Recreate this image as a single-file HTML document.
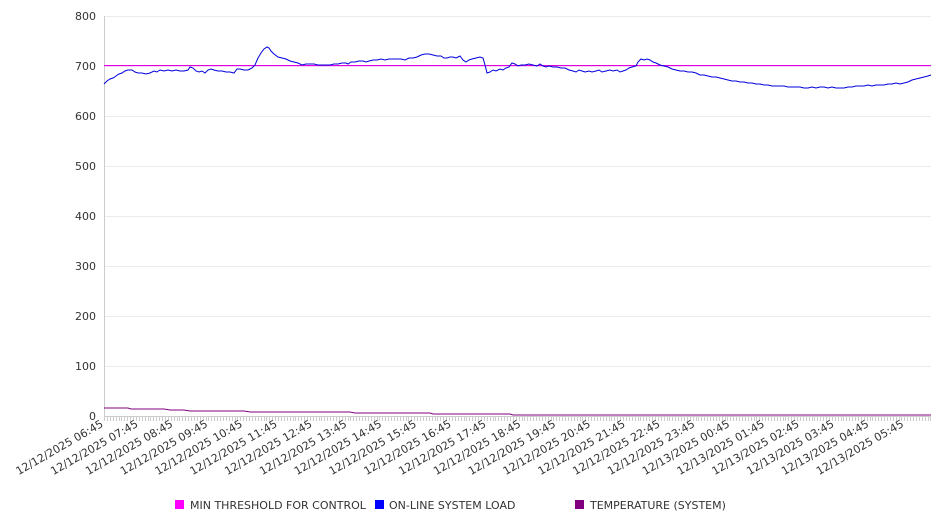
<!DOCTYPE html>
<html><head><meta charset="utf-8"><style>
html,body{margin:0;padding:0;background:#fff;}
svg{display:block;font-family:"DejaVu Sans","Liberation Sans",sans-serif;}
</style></head><body>
<svg width="946" height="526" viewBox="0 0 946 526" xmlns="http://www.w3.org/2000/svg">
<g stroke="#ebebeb" stroke-width="1">
<line x1="104" y1="16.5" x2="931" y2="16.5"/>
<line x1="104" y1="116.5" x2="931" y2="116.5"/><line x1="104" y1="166.5" x2="931" y2="166.5"/>
<line x1="104" y1="216.5" x2="931" y2="216.5"/><line x1="104" y1="266.5" x2="931" y2="266.5"/>
<line x1="104" y1="316.5" x2="931" y2="316.5"/><line x1="104" y1="366.5" x2="931" y2="366.5"/>
</g>
<line x1="104.5" y1="16" x2="104.5" y2="417" stroke="#ccc"/>
<line x1="104" y1="416.5" x2="931" y2="416.5" stroke="#ccc"/>
<g font-size="11" fill="#333" text-anchor="end">
<text x="96" y="20">800</text><text x="96" y="70">700</text><text x="96" y="120">600</text>
<text x="96" y="170">500</text><text x="96" y="220">400</text><text x="96" y="270">300</text>
<text x="96" y="320">200</text><text x="96" y="370">100</text><text x="96" y="420">0</text>
</g>
<path id="ticks" stroke="#ccc" stroke-width="1" fill="none" d=""/>
<rect x="104" y="65" width="827" height="1.2" fill="#e000e0"/>
<polyline fill="none" stroke="#0000dd" stroke-width="1" points="104,84 107,81 110,79 113,78 116,76 119,74 122,73 125,71 128,70 132,70 135,72 138,73 142,73 146,74 150,73 154,71 157,72 160,70 164,71 168,70 172,71 176,70 180,71 184,71 188,70 190,67 193,68 196,71 199,72 202,71 205,73 208,70 211,69 214,70 218,71 222,71 226,72 230,72 234,73 237,69 240,69 244,70 248,70 252,68 255,65 258,58 261,53 264,49 267,47 269,48 271,51 274,54 278,57 282,58 286,59 290,61 294,62 298,63 302,65 306,64 310,64 314,64 318,65 322,65 326,65 330,65 334,64 338,64 342,63 346,63 348,64 351,62 355,62 359,61 363,61 366,62 369,61 373,60 377,60 381,59 385,60 389,59 393,59 397,59 401,59 405,60 409,58 413,58 417,57 421,55 425,54 429,54 433,55 437,56 441,56 444,58 447,58 450,57 453,57 456,58 458,57 460,56 463,60 466,62 469,60 472,59 476,58 480,57 483,58 485,65 487,73 490,72 493,70 496,71 500,69 503,70 506,68 509,67 512,63 515,64 518,66 521,65 525,65 529,64 533,65 537,66 540,64 543,66 546,67 549,66 553,67 557,67 561,68 565,68 569,70 573,71 576,72 579,70 582,71 585,72 589,71 592,72 596,71 599,70 602,72 606,71 610,70 613,71 617,70 620,72 623,71 626,70 629,68 632,67 636,66 638,62 641,59 644,60 647,59 650,60 653,62 656,63 660,65 664,66 668,67 672,69 676,70 680,71 684,71 688,72 692,72 696,73 700,75 704,75 708,76 712,77 716,77 720,78 724,79 728,80 732,81 736,81 740,82 744,82 748,83 752,83 756,84 760,84 764,85 768,85 772,86 776,86 780,86 784,86 788,87 792,87 796,87 800,87 804,88 808,88 812,87 816,88 820,87 824,87 828,88 832,87 836,88 840,88 844,88 848,87 852,87 856,86 860,86 864,86 868,85 872,86 876,85 880,85 884,85 888,84 892,84 896,83 900,84 904,83 908,82 912,80 916,79 920,78 924,77 928,76 931,75"/>
<polyline fill="none" stroke="#800080" stroke-width="1" points="104,408 128,408 131,409 164,409 170,410 184,410 190,411 244,411 250,412 350,412 355,413 430,413 433,414 510,414 513,415 931,415"/>
<g id="labels" font-size="11" fill="#333" text-anchor="end"></g>
<g font-size="11" fill="#333">
<rect x="175" y="500" width="9" height="9" fill="#ff00ff"/><text x="190" y="509">MIN THRESHOLD FOR CONTROL</text>
<rect x="375" y="500" width="9" height="9" fill="#0000ff"/><text x="389" y="509">ON-LINE SYSTEM LOAD</text>
<rect x="575" y="500" width="9" height="9" fill="#800080"/><text x="590" y="509">TEMPERATURE (SYSTEM)</text>
</g>
<script>
(function(){
var ns="http://www.w3.org/2000/svg";
var d="";for(var x=104;x<=931;x+=2.9){d+="M"+(Math.round(x)+0.5)+" 417v4";}
document.getElementById("ticks").setAttribute("d",d);
var g=document.getElementById("labels");
var names=[];
for(var i=0;i<24;i++){var h=(6+i)%24;var day=(6+i)>=24?"12/13/2025":"12/12/2025";names.push(day+" "+(h<10?"0":"")+h+":45");}
for(var i=0;i<24;i++){var x=104+i*34.8;var t=document.createElementNS(ns,"text");
t.setAttribute("transform","translate("+x+",426) rotate(-30)");t.textContent=names[i];g.appendChild(t);}
})();
</script>
</svg>
</body></html>
